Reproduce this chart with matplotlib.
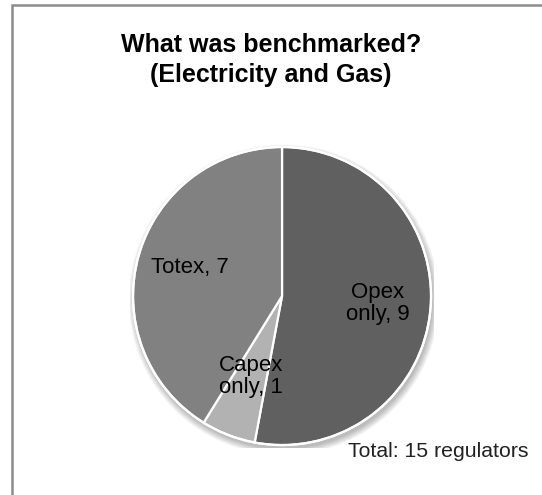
import matplotlib.pyplot as plt
from matplotlib.patches import Rectangle, Circle

labels = ['Opex\nonly', 'Capex\nonly', 'Totex']
counts = [9, 1, 7]
colors = ['#606060', '#b2b2b2', '#818181']
# where each label sits inside the unit pie
label_pos = [(0.64, -0.05), (-0.21, -0.54), (-0.62, 0.19)]
n_regulators = 15

plt.rcParams['font.family'] = ['Liberation Sans', 'DejaVu Sans']

fig = plt.figure(figsize=(5.42, 4.95), dpi=100)
fig.patch.set_facecolor('white')

# chart area frame, running off the right and bottom edges
fig.patches.append(Rectangle((12 / 542, -0.05), 1.0, 1 - 5 / 495 + 0.05,
                             transform=fig.transFigure, fill=False,
                             edgecolor='#8c8c8c', linewidth=1.8))

ax = fig.add_axes([0.2399, 0.0949, 0.5609, 0.6141])

# soft drop shadow under the pie
for i in range(8):
    ax.add_patch(Circle((0.012, -0.025), 1.0 + 0.006 * i, color='black',
                        alpha=0.035, lw=0, zorder=0))

wedges, _ = ax.pie(counts, colors=colors, startangle=90, counterclock=False,
                   wedgeprops=dict(edgecolor='white', linewidth=1.6))
ax.add_patch(Circle((0, 0), 1.0, fill=False, edgecolor='white', lw=1.6, zorder=3))
ax.set_xlim(-1.02, 1.02)
ax.set_ylim(-1.02, 1.02)
ax.set_aspect('equal')

for lab, n, (x, y) in zip(labels, counts, label_pos):
    ax.text(x, y, f'{lab}, {n}', ha='center', va='center', fontsize=16,
            color='black', linespacing=1.05, zorder=5)

fig.text(0.5, 1 - 52 / 495, 'What was benchmarked?', ha='center',
         va='baseline', fontsize=18, fontweight='bold')
fig.text(0.5, 1 - 82 / 495, '(Electricity and Gas)', ha='center',
         va='baseline', fontsize=18, fontweight='bold')
fig.text(348 / 542, 1 - 457 / 495, f'Total: {n_regulators} regulators',
         ha='left', va='baseline', fontsize=15.3, color='#222222')

fig.savefig('out.png', dpi=100)
